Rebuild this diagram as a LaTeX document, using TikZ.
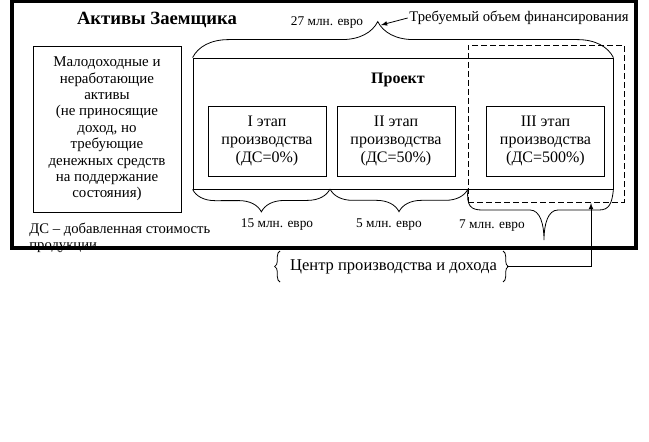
\documentclass[tikz,border=0pt]{standalone}
\usepackage{fontspec}
\setmainfont{Liberation Serif}
\usetikzlibrary{decorations.pathreplacing}

\begin{document}
\begin{tikzpicture}[x=0.75pt,y=-0.75pt,line width=0.6pt,
        box/.style={draw, align=center, inner sep=0pt},
        stage/.style={box, minimum width=88.5pt, minimum height=52.5pt, font=\fontsize{12}{13.8}\selectfont},
        small/.style={font=\fontsize{10}{12}\selectfont},
        brc/.style={decorate, decoration={brace, amplitude=#1}}]
            \useasboundingbox (0,0) rectangle (649,442);
            \node [font=\fontsize{14}{16}\selectfont\bfseries] (title) at (157,20) {Активы Заемщика};
            \node [box, minimum width=111pt, minimum height=124.5pt, font=\fontsize{11.2}{12.3}\selectfont] (lowbox) at (107,129) {Малодоходные и\\неработающие\\активы\\(не приносящие\\доход, но\\требующие\\денежных средств\\на поддержание\\состояния)};
            \node [draw, minimum width=315pt, minimum height=98.25pt, inner sep=0pt] (proj) at (403,123.5) {};
            \node [font=\fontsize{12}{14}\selectfont\bfseries] (projname) at (398,80) {Проект};
            \node [stage] (st1) at (267,141) {I этап\\производства\\(ДС=0\%)};
            \node [stage] (st2) at (396,141) {II этап\\производства\\(ДС=50\%)};
            \node [stage] (st3) at (545.5,141) {III этап\\производства\\(ДС=500\%)};
            \node [draw, dash pattern=on 4.5pt off 2.25pt, minimum width=117pt, minimum height=117.75pt, inner sep=0pt] (zone) at (546,123.5) {};
            % braces
            \coordinate (b1) at (330,189);
            \coordinate (b2) at (468,189);
            \draw [brc=27pt, decoration={aspect=0.44}] (proj.north west) -- (proj.north east);
            \draw [brc=17pt] (b1) -- (proj.south west);
            \draw [brc=17pt] (b2) -- (b1);
            \draw (b2) .. controls (466,206) and (471,210) .. (482,210) -- (530,210) .. controls (540,210) and (544,224) .. (544,240) .. controls (544,224) and (548,210) .. (558,210) -- (599,210) .. controls (609,210) and (612,204) .. (proj.south east);
            \node [small] (s27) at (327,23) {27 млн. евро};
            \node [small] (s15) at (277,225) {15 млн. евро};
            \node [small] (s5) at (389,225) {5 млн. евро};
            \node [small] (s7) at (492,226) {7 млн. евро};
            \node [font=\fontsize{11}{13}\selectfont, inner sep=1pt] (need) at (519,18) {Требуемый объем финансирования};
            \coordinate (toptip) at (381,25);
            \draw [-latex] (need.west) -- (toptip);
            % centre of production
            \node [font=\fontsize{12.4}{14}\selectfont] (centre) at (393.5,267) {Центр производства и дохода};
            \draw [brc=4pt] (280,282) -- (280,251);
            \draw [brc=4pt] (503,251) -- (503,282);
            \coordinate (rtip) at (507,266.5);
            \coordinate (atip) at (591,203);
            \draw [-latex] (rtip) -| (atip);
            \node [anchor=north west, align=left, inner sep=0pt, font=\fontsize{11}{11.5}\selectfont] (note) at (29,223) {ДС -- добавленная стоимость\\продукции};
            \draw [line width=3pt] (12,1.5) rectangle (636,248);
        \end{tikzpicture}
\end{document}
